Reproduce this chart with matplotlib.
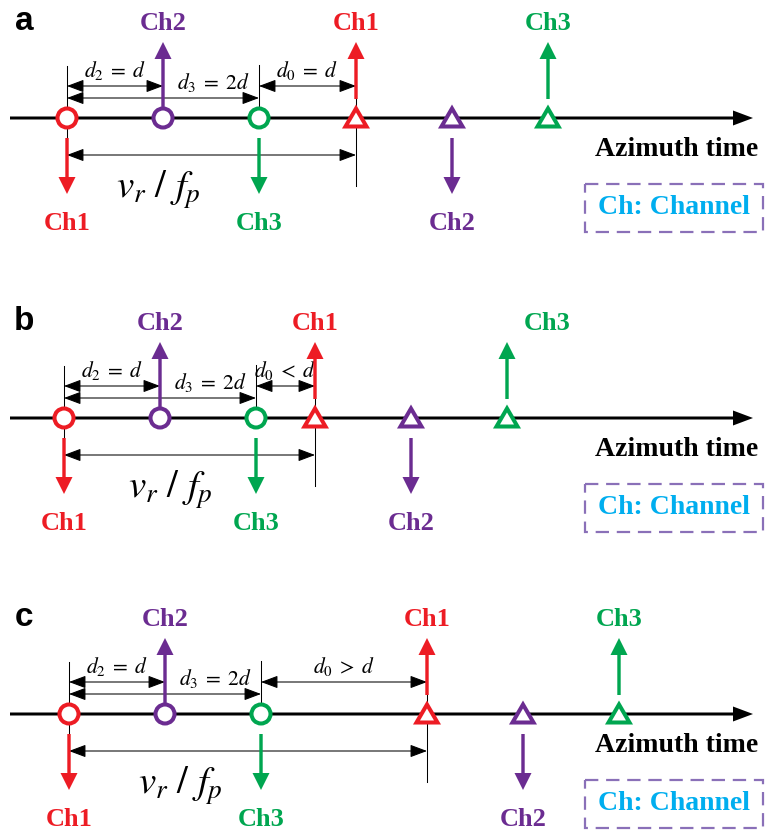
import numpy as np
import matplotlib
matplotlib.use("Agg")
import matplotlib.pyplot as plt
from matplotlib.patches import Circle, Polygon, Rectangle

plt.rcParams['mathtext.fontset'] = 'stix'

# azimuth sampling geometry, one entry per panel
panel_names = ['a', 'b', 'c']
first_sample = [67, 64, 69]          # position of Ch1 sample in the first pulse
spacing_d = 96                       # d, channel spacing
channel_offsets = [0, 1, 2]          # Ch1, Ch2, Ch3 in units of d
pulse_step = [289, 251, 358]         # v_r / f_p for each case
d0_labels = [r'$d_0\;=\;d$', r'$d_0\;<\;d$', r'$d_0\;>\;d$']
channel_names = ['Ch1', 'Ch2', 'Ch3']

RED = '#ed1c24'
PURPLE = '#6b2c91'
GREEN = '#00a650'
CYAN = '#00aeef'
BOX = '#8a70b8'
ch_colors = [RED, PURPLE, GREEN]

# channel arrows: first pulse Ch1 down, Ch2 up, Ch3 down; second pulse flipped
dir_first = [1, -1, 1]
dir_second = [-1, 1, -1]

axis_rows = [118, 418, 714]
ch3_label_shift = [0, 40, 0]
vr_text_dx = [91, 106, 111]

fig = plt.figure(figsize=(7.67, 8.36), dpi=100)
ax = fig.add_axes([0, 0, 1, 1])
ax.set_xlim(0, 767)
ax.set_ylim(836, 0)
ax.axis('off')

serif_bold = dict(family='Liberation Serif', weight='bold')
LBL = 19


def dim_arrow(x1, x2, y):
    ax.annotate('', xy=(x2, y), xytext=(x1, y),
                arrowprops=dict(arrowstyle='<|-|>,head_length=0.8,head_width=0.3',
                                color='black', lw=0.75, shrinkA=0, shrinkB=0,
                                mutation_scale=13))


def channel_arrow(x, y, direction, color, start):
    y0 = y + direction * start
    y1 = y + direction * 76
    ax.arrow(x, y0, 0, y1 - y0, width=3.4, head_width=17, head_length=17,
             length_includes_head=True, color=color, lw=0, zorder=4)


for k, name in enumerate(panel_names):
    y = axis_rows[k]
    circ = [first_sample[k] + o * spacing_d for o in channel_offsets]
    tri = [c + pulse_step[k] for c in circ]

    ax.text(24, y - 96, name, ha='center', va='center', fontsize=24,
            family='Liberation Sans', weight='bold')

    # thin extension lines
    ax.plot([circ[0], circ[0]], [y - 52, y + 36], color='black', lw=0.75, zorder=2)
    ax.plot([circ[2], circ[2]], [y - 53, y - 9], color='black', lw=0.75, zorder=2)
    ax.plot([tri[0], tri[0]], [y - 32, y + 68], color='black', lw=0.75, zorder=2)

    # dimension arrows
    dim_arrow(circ[0], circ[1], y - 32)
    dim_arrow(circ[0], circ[2], y - 20)
    dim_arrow(circ[2], tri[0], y - 32)
    dim_arrow(circ[0], tri[0], y + 37)

    ax.text(circ[0] + 48, y - 48, r'$d_2\;=\;d$', ha='center', va='center', fontsize=15.5)
    ax.text(circ[0] + 146, y - 35, r'$d_3\;=\;2d$', ha='center', va='center', fontsize=15.5)
    ax.text((circ[2] + tri[0]) / 2, y - 48, d0_labels[k], ha='center', va='center',
            fontsize=15.5)
    ax.text(circ[0] + vr_text_dx[k], y + 72, r'$v_r\,\,/\,\,f_p$', ha='center',
            va='center', fontsize=28)

    # azimuth axis
    ax.arrow(10, y, 743, 0, width=3, head_width=15, head_length=20,
             length_includes_head=True, color='black', lw=0, zorder=3)
    ax.text(677, y + 31, 'Azimuth time', ha='center', va='center', fontsize=20,
            **serif_bold)

    # samples
    for i in range(3):
        ax.add_patch(Circle((circ[i], y), 9.5, facecolor='white',
                            edgecolor=ch_colors[i], lw=2.9, zorder=5))
        ax.add_patch(Polygon([[tri[i] - 10.5, y + 8.5], [tri[i] + 10.5, y + 8.5],
                              [tri[i], y - 9.5]], closed=True, facecolor='white',
                             edgecolor=ch_colors[i], lw=2.9, zorder=5))

        start1 = 10 if dir_first[i] < 0 else 20
        channel_arrow(circ[i], y, dir_first[i], ch_colors[i], start1)
        start2 = 19 if dir_second[i] < 0 else 20
        channel_arrow(tri[i], y, dir_second[i], ch_colors[i], start2)

        for xx, dd in ((circ[i], dir_first[i]), (tri[i], dir_second[i])):
            ly = y - 95 if dd < 0 else y + 106
            if i == 2 and dd < 0:
                xx = xx + ch3_label_shift[k]
            ax.text(xx, ly, channel_names[i], ha='center', va='center',
                    color=ch_colors[i], fontsize=LBL, **serif_bold)

    # legend box
    ax.add_patch(Rectangle((585, y + 66), 178, 48, facecolor='none', edgecolor=BOX,
                           lw=1.6, linestyle=(0, (6, 3.5))))
    ax.text(674, y + 90, 'Ch: Channel', ha='center', va='center', color=CYAN,
            fontsize=20, **serif_bold)

fig.savefig('out.png', dpi=100)
